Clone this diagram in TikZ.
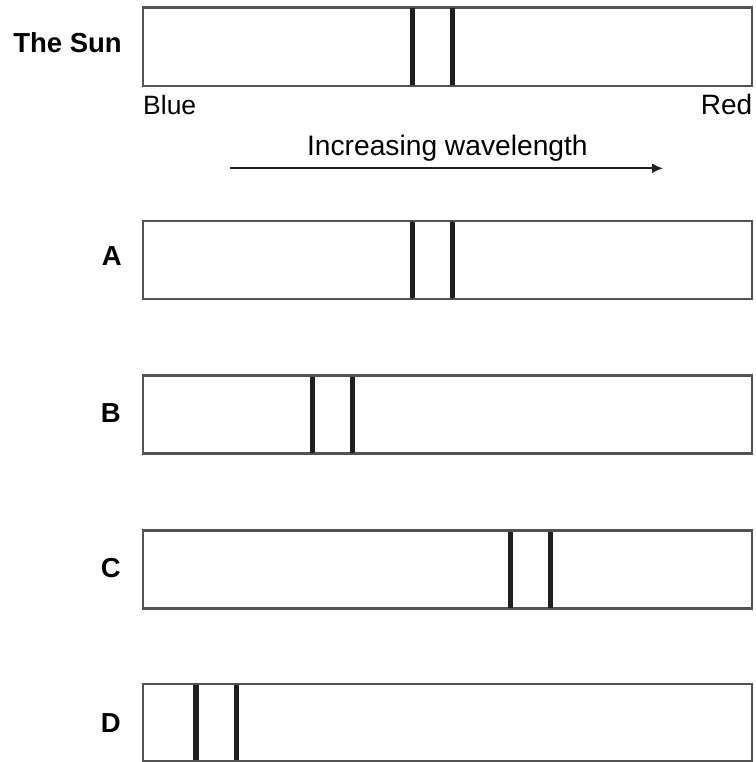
\documentclass[tikz,border=0pt]{standalone}
\usepackage{fontspec}
\setmainfont{Liberation Sans}
\usetikzlibrary{arrows.meta}
\begin{document}
\begin{tikzpicture}[x=1pt,y=-1pt,
  specbox/.style={draw=black!68,line width=2.2pt,fill=white},
  specline/.style={draw=black!88,line width=5.2pt},
  lbl/.style={inner sep=0pt,font=\fontsize{27.5}{30}\selectfont\bfseries,anchor=base east},
  txt/.style={inner sep=0pt,font=\fontsize{26.5}{30}\selectfont}]
\useasboundingbox (0,0) rectangle (755,762);
% boxes
\draw[specbox] (143,7.5) rectangle (752,86);
\draw[specbox] (143,221) rectangle (752,299);
\draw[specbox] (143,375.5) rectangle (752,453.5);
\draw[specbox] (143,530.5) rectangle (752,608.5);
\draw[specbox] (143,684) rectangle (752,761);
% absorption lines
\draw[specline] (412.5,8.5) -- (412.5,85);
\draw[specline] (452.3,8.5) -- (452.3,85);
\draw[specline] (412.5,222) -- (412.5,298);
\draw[specline] (452.3,222) -- (452.3,298);
\draw[specline] (312.7,376.5) -- (312.7,452.5);
\draw[specline] (352.5,376.5) -- (352.5,452.5);
\draw[specline] (510.2,531.5) -- (510.2,607.5);
\draw[specline] (550.5,531.5) -- (550.5,607.5);
\draw[specline,line width=6pt] (195.5,685) -- (195.5,760);
\draw[specline] (236.5,685) -- (236.5,760);
% labels
\node[lbl] (sunl) at (122,52.7) {The Sun};
\node[lbl] (al) at (122,265) {A};
\node[lbl] (bl) at (121,422) {B};
\node[lbl] (cl) at (121,577.5) {C};
\node[lbl] (dl) at (121,732) {D};
\node[txt,anchor=base west] (blue) at (143,115) {Blue};
\node[txt,anchor=base east,font=\fontsize{28}{30}\selectfont] (red) at (752.5,115) {Red};
\node[txt,anchor=base,font=\fontsize{28.2}{30}\selectfont] (inc) at (447.4,155.3) {Increasing wavelength};
% arrow
\coordinate (as) at (230,168.3);
\coordinate (ae) at (663,168.3);
\draw[line width=1.8pt,draw=black!88,-{Latex[length=11pt,width=10pt]}] (as) -- (ae);
\end{tikzpicture}
\end{document}
